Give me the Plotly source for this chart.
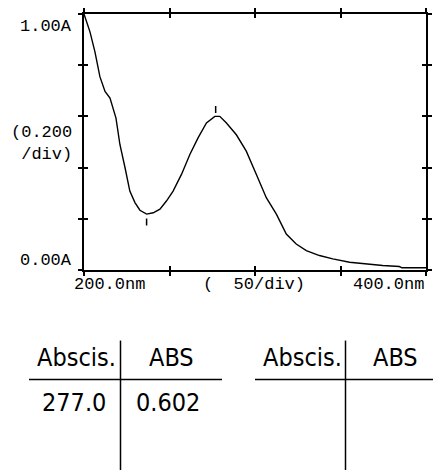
import plotly.graph_objects as go

# Spectrum trace (wavelength nm, absorbance)
wavelength = [200.0, 203.5, 206.4, 209.3, 212.3, 215.2, 218.7, 221.0, 224.0, 226.8,
              229.8, 232.7, 236.6, 240.5, 244.4, 248.2, 252.1, 257.0, 261.9, 266.7,
              271.6, 276.5, 279.4, 283.3, 289.1, 294.9, 300.8, 306.6, 312.5, 318.3,
              324.1, 330.0, 337.7, 345.5, 355.3, 365.0, 374.7, 384.4, 386.0, 400.0]
absorbance = [1.000, 0.930, 0.852, 0.755, 0.697, 0.671, 0.593, 0.490, 0.399, 0.308,
              0.263, 0.233, 0.218, 0.223, 0.237, 0.269, 0.308, 0.373, 0.451, 0.516,
              0.574, 0.600, 0.600, 0.574, 0.528, 0.464, 0.373, 0.282, 0.218, 0.140,
              0.101, 0.075, 0.056, 0.043, 0.030, 0.023, 0.017, 0.013, 0.008, 0.008]

peak_nm = [277.0]
peak_abs = [0.602]
valley_nm = [236.6]
valley_abs = [0.217]

x_range = [200.0, 400.0]
y_range = [0.0, 1.0]
x_tick_vals = [200, 250, 300, 350, 400]
y_tick_vals = [0.0, 0.2, 0.4, 0.6, 0.8, 1.0]

y_top_label = "1.00A"
y_bottom_label = "0.00A"
y_unit_label = "(0.200<br> /div)"
x_left_label = "200.0nm"
x_mid_label = "(  50/div)"
x_right_label = "400.0nm"

table_headers = ["Abscis.", "ABS"]
table_abscis = ["277.0"]
table_abs = ["0.602"]

FONT = "Liberation Mono, DejaVu Sans Mono, monospace"
TFONT = "DejaVu Sans Condensed, Liberation Sans, sans-serif"
OFF = 8  # default page body margin
W, H = 441 - OFF, 470 - OFF

def px(X):
    return (X - OFF) / W

def py(Y):
    return 1 - (Y - OFF) / H

fig = go.Figure()
fig.add_trace(go.Scatter(x=wavelength, y=absorbance, mode="lines",
                         line=dict(color="black", width=1.4), showlegend=False))
fig.add_trace(go.Scatter(x=peak_nm, y=[v + 0.025 for v in peak_abs], mode="markers",
                         marker=dict(symbol="line-ns", size=5, line=dict(color="black", width=1.5)),
                         showlegend=False))
fig.add_trace(go.Scatter(x=valley_nm, y=[v - 0.03 for v in valley_abs], mode="markers",
                         marker=dict(symbol="line-ns", size=5, line=dict(color="black", width=1.5)),
                         showlegend=False))
# dummy trace for overlay axes
fig.add_trace(go.Scatter(x=[None], y=[None], xaxis="x2", yaxis="y2", showlegend=False))

axcommon = dict(showgrid=False, zeroline=False, showticklabels=False, showline=True,
                linecolor="black", linewidth=1.5, tickcolor="black", tickwidth=1.5,
                ticklen=4, mirror="ticks")
xd = [px(84), px(426)]
yd = [py(269), py(12)]
fig.update_layout(
    width=W, height=H, margin=dict(l=0, r=0, t=0, b=0),
    paper_bgcolor="white", plot_bgcolor="white",
    xaxis=dict(range=x_range, domain=xd, tickvals=x_tick_vals, ticks="outside", **axcommon),
    yaxis=dict(range=y_range, domain=yd, tickvals=y_tick_vals, ticks="outside", **axcommon),
    xaxis2=dict(range=x_range, domain=xd, tickvals=x_tick_vals, ticks="inside",
                overlaying="x", anchor="y2", **axcommon),
    yaxis2=dict(range=y_range, domain=yd, tickvals=y_tick_vals, ticks="inside",
                overlaying="y", anchor="x2", **axcommon),
)

def ann(text, x, y, xanchor="center", yanchor="middle", size=17, family=FONT, align="center"):
    fig.add_annotation(text=text, x=px(x), y=py(y), xref="paper", yref="paper",
                       xanchor=xanchor, yanchor=yanchor, showarrow=False, align=align,
                       font=dict(family=family, size=size, color="black"))

ann(y_top_label, 74, 25, xanchor="right")
ann(y_bottom_label, 74, 260, xanchor="right")
ann(y_unit_label, 74, 142, xanchor="right", align="left")
ann(x_left_label, 72, 284, xanchor="left")
ann(x_mid_label, 254, 284)
ann(x_right_label, 426, 284, xanchor="right")

# tables
shapes = []
def line(xa, ya, xb, yb):
    shapes.append(dict(type="line", xref="paper", yref="paper", x0=px(xa), y0=py(ya),
                       x1=px(xb), y1=py(yb), line=dict(color="black", width=1.5)))
line(29, 379, 222, 379)
line(120.5, 340, 120.5, 470)
line(255, 379, 441, 379)
line(345.5, 340, 345.5, 470)
fig.update_layout(shapes=shapes)

TS = 25
ann(table_headers[0], 118, 357, xanchor="right", size=TS, family=TFONT)
ann(table_headers[1], 171, 357, size=TS, family=TFONT)
ann(table_abscis[0], 108, 402, xanchor="right", size=TS, family=TFONT)
ann(table_abs[0], 168, 402, size=TS, family=TFONT)
ann(table_headers[0], 344, 357, xanchor="right", size=TS, family=TFONT)
ann(table_headers[1], 395, 357, size=TS, family=TFONT)

fig.write_html("out.html")
